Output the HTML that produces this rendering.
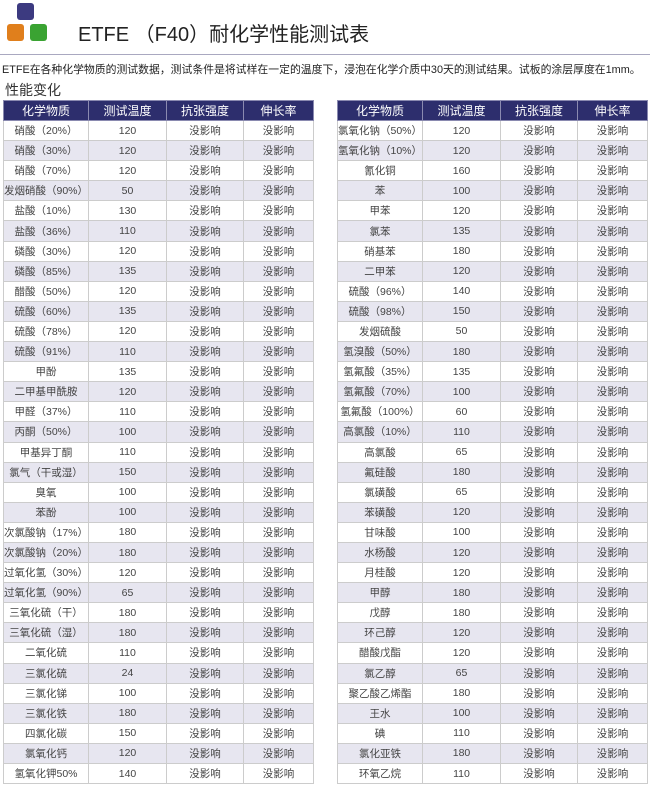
<!DOCTYPE html>
<html><head><meta charset="utf-8">
<style>
body{margin:0;width:650px;height:785px;background:#fff;position:relative;overflow:hidden;font-family:"Liberation Sans","Noto Sans CJK SC",sans-serif;color:#333}
.cube{position:absolute;width:17px;height:17px;border-radius:3px}
h1{position:absolute;left:78px;top:18px;margin:0;font-weight:normal;font-size:20px;color:#222;white-space:nowrap}
.line{position:absolute;left:0;top:54px;width:650px;height:1px;background:#a9a8c0}
.sub{position:absolute;left:2px;top:61px;font-size:10.85px;white-space:nowrap;color:#222}
.sec{position:absolute;left:5px;top:80px;font-size:14px;color:#333}
table{position:absolute;top:100px;border-collapse:collapse;table-layout:fixed}
td,th{text-align:center;padding:0;font-size:10.5px;border:1px solid #ccc;height:19.1px;white-space:nowrap;overflow:hidden;color:#444}
th{background:#2d2e6d;color:#fff;font-weight:normal;font-size:12px;height:19px;border-color:#8a8ab0}
tr:nth-child(odd) td{background:#e7e6f0}
</style></head><body>
<div class="cube" style="left:17px;top:3px;background:#3c3a80"></div>
<div class="cube" style="left:7px;top:24px;background:#e07f1c"></div>
<div class="cube" style="left:30px;top:24px;background:#3aa332"></div>
<h1>ETFE （F40）耐化学性能测试表</h1>
<div class="line"></div>
<div class="sub">ETFE在各种化学物质的测试数据，测试条件是将试样在一定的温度下，浸泡在化学介质中30天的测试结果。试板的涂层厚度在1mm。</div>
<div class="sec">性能变化</div>
<table style="left:3px;width:310px">
<colgroup><col style="width:85px"><col style="width:78px"><col style="width:77px"><col style="width:70px"></colgroup>
<tr><th>化学物质</th><th>测试温度</th><th>抗张强度</th><th>伸长率</th></tr>
<tr><td>硝酸（20%）</td><td>120</td><td>没影响</td><td>没影响</td></tr>
<tr><td>硝酸（30%）</td><td>120</td><td>没影响</td><td>没影响</td></tr>
<tr><td>硝酸（70%）</td><td>120</td><td>没影响</td><td>没影响</td></tr>
<tr><td>发烟硝酸（90%）</td><td>50</td><td>没影响</td><td>没影响</td></tr>
<tr><td>盐酸（10%）</td><td>130</td><td>没影响</td><td>没影响</td></tr>
<tr><td>盐酸（36%）</td><td>110</td><td>没影响</td><td>没影响</td></tr>
<tr><td>磷酸（30%）</td><td>120</td><td>没影响</td><td>没影响</td></tr>
<tr><td>磷酸（85%）</td><td>135</td><td>没影响</td><td>没影响</td></tr>
<tr><td>醋酸（50%）</td><td>120</td><td>没影响</td><td>没影响</td></tr>
<tr><td>硫酸（60%）</td><td>135</td><td>没影响</td><td>没影响</td></tr>
<tr><td>硫酸（78%）</td><td>120</td><td>没影响</td><td>没影响</td></tr>
<tr><td>硫酸（91%）</td><td>110</td><td>没影响</td><td>没影响</td></tr>
<tr><td>甲酚</td><td>135</td><td>没影响</td><td>没影响</td></tr>
<tr><td>二甲基甲酰胺</td><td>120</td><td>没影响</td><td>没影响</td></tr>
<tr><td>甲醛（37%）</td><td>110</td><td>没影响</td><td>没影响</td></tr>
<tr><td>丙酮（50%）</td><td>100</td><td>没影响</td><td>没影响</td></tr>
<tr><td>甲基异丁酮</td><td>110</td><td>没影响</td><td>没影响</td></tr>
<tr><td>氯气（干或湿）</td><td>150</td><td>没影响</td><td>没影响</td></tr>
<tr><td>臭氧</td><td>100</td><td>没影响</td><td>没影响</td></tr>
<tr><td>苯酚</td><td>100</td><td>没影响</td><td>没影响</td></tr>
<tr><td>次氯酸钠（17%）</td><td>180</td><td>没影响</td><td>没影响</td></tr>
<tr><td>次氯酸钠（20%）</td><td>180</td><td>没影响</td><td>没影响</td></tr>
<tr><td>过氧化氢（30%）</td><td>120</td><td>没影响</td><td>没影响</td></tr>
<tr><td>过氧化氢（90%）</td><td>65</td><td>没影响</td><td>没影响</td></tr>
<tr><td>三氧化硫（干）</td><td>180</td><td>没影响</td><td>没影响</td></tr>
<tr><td>三氧化硫（湿）</td><td>180</td><td>没影响</td><td>没影响</td></tr>
<tr><td>二氧化硫</td><td>110</td><td>没影响</td><td>没影响</td></tr>
<tr><td>三氯化硫</td><td>24</td><td>没影响</td><td>没影响</td></tr>
<tr><td>三氯化锑</td><td>100</td><td>没影响</td><td>没影响</td></tr>
<tr><td>三氯化铁</td><td>180</td><td>没影响</td><td>没影响</td></tr>
<tr><td>四氯化碳</td><td>150</td><td>没影响</td><td>没影响</td></tr>
<tr><td>氯氧化钙</td><td>120</td><td>没影响</td><td>没影响</td></tr>
<tr><td>氢氧化钾50%</td><td>140</td><td>没影响</td><td>没影响</td></tr>
</table>
<table style="left:337px;width:310px">
<colgroup><col style="width:85px"><col style="width:78px"><col style="width:77px"><col style="width:70px"></colgroup>
<tr><th>化学物质</th><th>测试温度</th><th>抗张强度</th><th>伸长率</th></tr>
<tr><td>氯氧化钠（50%）</td><td>120</td><td>没影响</td><td>没影响</td></tr>
<tr><td>氢氧化钠（10%）</td><td>120</td><td>没影响</td><td>没影响</td></tr>
<tr><td>氰化铜</td><td>160</td><td>没影响</td><td>没影响</td></tr>
<tr><td>苯</td><td>100</td><td>没影响</td><td>没影响</td></tr>
<tr><td>甲苯</td><td>120</td><td>没影响</td><td>没影响</td></tr>
<tr><td>氯苯</td><td>135</td><td>没影响</td><td>没影响</td></tr>
<tr><td>硝基苯</td><td>180</td><td>没影响</td><td>没影响</td></tr>
<tr><td>二甲苯</td><td>120</td><td>没影响</td><td>没影响</td></tr>
<tr><td>硫酸（96%）</td><td>140</td><td>没影响</td><td>没影响</td></tr>
<tr><td>硫酸（98%）</td><td>150</td><td>没影响</td><td>没影响</td></tr>
<tr><td>发烟硫酸</td><td>50</td><td>没影响</td><td>没影响</td></tr>
<tr><td>氢溴酸（50%）</td><td>180</td><td>没影响</td><td>没影响</td></tr>
<tr><td>氢氟酸（35%）</td><td>135</td><td>没影响</td><td>没影响</td></tr>
<tr><td>氢氟酸（70%）</td><td>100</td><td>没影响</td><td>没影响</td></tr>
<tr><td>氢氟酸（100%）</td><td>60</td><td>没影响</td><td>没影响</td></tr>
<tr><td>高氯酸（10%）</td><td>110</td><td>没影响</td><td>没影响</td></tr>
<tr><td>高氯酸</td><td>65</td><td>没影响</td><td>没影响</td></tr>
<tr><td>氟硅酸</td><td>180</td><td>没影响</td><td>没影响</td></tr>
<tr><td>氯磺酸</td><td>65</td><td>没影响</td><td>没影响</td></tr>
<tr><td>苯磺酸</td><td>120</td><td>没影响</td><td>没影响</td></tr>
<tr><td>甘味酸</td><td>100</td><td>没影响</td><td>没影响</td></tr>
<tr><td>水杨酸</td><td>120</td><td>没影响</td><td>没影响</td></tr>
<tr><td>月桂酸</td><td>120</td><td>没影响</td><td>没影响</td></tr>
<tr><td>甲醇</td><td>180</td><td>没影响</td><td>没影响</td></tr>
<tr><td>戊醇</td><td>180</td><td>没影响</td><td>没影响</td></tr>
<tr><td>环己醇</td><td>120</td><td>没影响</td><td>没影响</td></tr>
<tr><td>醋酸戊酯</td><td>120</td><td>没影响</td><td>没影响</td></tr>
<tr><td>氯乙醇</td><td>65</td><td>没影响</td><td>没影响</td></tr>
<tr><td>聚乙酸乙烯酯</td><td>180</td><td>没影响</td><td>没影响</td></tr>
<tr><td>王水</td><td>100</td><td>没影响</td><td>没影响</td></tr>
<tr><td>碘</td><td>110</td><td>没影响</td><td>没影响</td></tr>
<tr><td>氯化亚铁</td><td>180</td><td>没影响</td><td>没影响</td></tr>
<tr><td>环氧乙烷</td><td>110</td><td>没影响</td><td>没影响</td></tr>
</table>
</body></html>
